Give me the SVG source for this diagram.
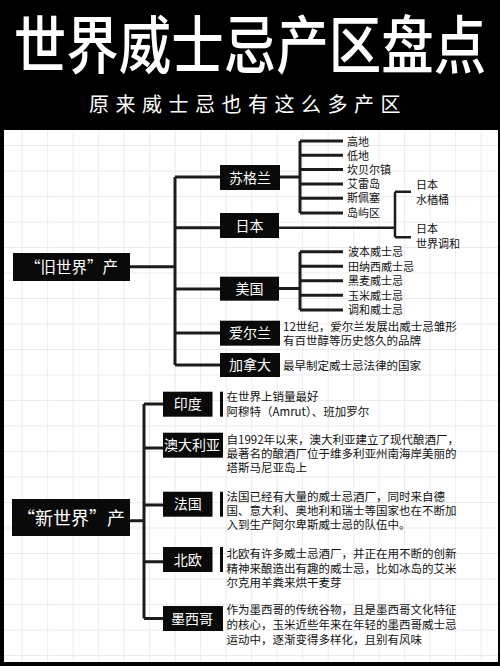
<svg xmlns="http://www.w3.org/2000/svg" width="500" height="666" viewBox="0 0 500 666">
<defs>
<pattern id="grid" patternUnits="userSpaceOnUse" x="21.7" y="145" width="25.5" height="25.5">
<path d="M0 0H25.5M0 0V25.5" stroke="#ebebeb" stroke-width="2" fill="none"/>
</pattern>
<style>
.t{font-family:"Noto Sans CJK SC","Noto Sans",sans-serif;}
.box{fill:#0a0a0a;}
.bt{font-family:"Noto Sans CJK SC",sans-serif;font-size:14px;fill:#fff;text-anchor:middle;}
.lt{font-family:"Noto Sans CJK SC",sans-serif;font-size:11px;fill:#111;}
.dt{font-family:"Noto Sans CJK SC",sans-serif;font-size:11.5px;fill:#111;}
.c{stroke:#1c1c1c;stroke-width:3;fill:none;}
.c2{stroke:#1c1c1c;stroke-width:2.5;fill:none;}
</style>
</defs>
<rect width="500" height="666" fill="#000"/>
<rect x="4" y="130" width="494" height="532" fill="#fff"/>
<rect x="4" y="130" width="494" height="532" fill="url(#grid)"/>

<g id="header">
<text class="t" x="0" y="0" font-size="52.5" font-weight="500" fill="#fff" text-anchor="middle" transform="translate(250 68) scale(1 1.2)">世界威士忌产区盘点</text>
<text class="t" x="248" y="112" font-size="20" fill="#fff" text-anchor="middle" letter-spacing="6.5">原来威士忌也有这么多产区</text>
</g>

<g id="connectors">
<path class="c" d="M130 266.7H175M175 177V365M175 177H220M175 227.7H220M175 289H220M175 333H220M175 365H220"/>
<path class="c" d="M279 177H300M300 141V213M300 141H343M300 155.3H343M300 169.6H343M300 183.9H343M300 198.2H343M300 213H343"/>
<path class="c2" d="M279 227.7H395M395 191.7V237.3M395 191.7H411M395 237.3H411"/>
<path class="c" d="M279 288.5H300M300 251.7V310M300 251.7H343M300 266.3H343M300 280.8H343M300 295.3H343M300 310H343"/>
<path class="c" d="M130 520.7H144M144 404V618.5M144 404H163M144 448H163M144 505H163M144 561.7H163M144 618.5H163"/>
</g>

<g id="old-world">
<rect class="box" x="13" y="253" width="117" height="28"/>
<text class="t" x="71.5" y="272.5" font-size="15.5" fill="#fff" text-anchor="middle">“旧世界”产</text>
</g>

<g id="scotland">
<rect class="box" x="220" y="165" width="60" height="25"/>
<text class="bt" x="250" y="182.5">苏格兰</text>
<text class="lt" x="347" y="145.5">高地</text>
<text class="lt" x="347" y="159.5">低地</text>
<text class="lt" x="347" y="173.5">坎贝尔镇</text>
<text class="lt" x="347" y="187.5">艾雷岛</text>
<text class="lt" x="347" y="202">斯佩塞</text>
<text class="lt" x="347" y="217">岛屿区</text>
</g>

<g id="japan">
<rect class="box" x="220" y="213" width="59" height="25"/>
<text class="bt" x="249.5" y="230.5">日本</text>
<text class="lt" x="416" y="189">日本</text>
<text class="lt" x="416" y="204">水楢桶</text>
<text class="lt" x="416" y="233">日本</text>
<text class="lt" x="416" y="247.5">世界调和</text>
</g>

<g id="usa">
<rect class="box" x="220" y="276.7" width="59" height="24"/>
<text class="bt" x="249.5" y="293.7">美国</text>
<text class="lt" x="348" y="256">波本威士忌</text>
<text class="lt" x="348" y="270.5">田纳西威士忌</text>
<text class="lt" x="348" y="285">黑麦威士忌</text>
<text class="lt" x="348" y="299.5">玉米威士忌</text>
<text class="lt" x="348" y="314">调和威士忌</text>
</g>

<g id="ireland">
<rect class="box" x="220" y="320.7" width="60" height="25"/>
<text class="bt" x="250" y="338.2">爱尔兰</text>
<text class="dt" x="283" y="331.3">12世纪，爱尔兰发展出威士忌雏形</text>
<text class="dt" x="283" y="345">有百世醇等历史悠久的品牌</text>
</g>

<g id="canada">
<rect class="box" x="220" y="353" width="60" height="24"/>
<text class="bt" x="250" y="370">加拿大</text>
<text class="dt" x="283" y="370">最早制定威士忌法律的国家</text>
</g>

<g id="new-world">
<rect class="box" x="12" y="499" width="118" height="37"/>
<text class="t" x="71" y="524.5" font-size="18" fill="#fff" text-anchor="middle">“新世界”产</text>
</g>

<g id="india">
<rect class="box" x="163" y="391.7" width="49.5" height="25"/>
<rect class="box" x="220" y="391.7" width="3" height="25"/>
<text class="bt" x="187.7" y="409.2">印度</text>
<text class="dt" x="226.5" y="401">在世界上销量最好</text>
<text class="dt" x="226.5" y="416">阿穆特（Amrut）、班加罗尔</text>
</g>

<g id="australia">
<rect class="box" x="163" y="432.7" width="60" height="25"/>
<text class="bt" x="192" y="450.2">澳大利亚</text>
<text class="dt" x="226.5" y="443.6">自1992年以来，澳大利亚建立了现代酿酒厂，</text>
<text class="dt" x="226.5" y="457.5">最著名的酿酒厂位于维多利亚州南海岸美丽的</text>
<text class="dt" x="226.5" y="471.6">塔斯马尼亚岛上</text>
</g>

<g id="france">
<rect class="box" x="163" y="491.7" width="49.5" height="25"/>
<rect class="box" x="220" y="491.7" width="3" height="25"/>
<text class="bt" x="187.7" y="509.2">法国</text>
<text class="dt" x="226.5" y="501">法国已经有大量的威士忌酒厂，同时来自德</text>
<text class="dt" x="226.5" y="514.5">国、意大利、奥地利和瑞士等国家也在不断加</text>
<text class="dt" x="226.5" y="529.3">入到生产阿尔卑斯威士忌的队伍中。</text>
</g>

<g id="nordic">
<rect class="box" x="163" y="547" width="49.5" height="25"/>
<rect class="box" x="220" y="547" width="3" height="25"/>
<text class="bt" x="187.7" y="564.5">北欧</text>
<text class="dt" x="226.5" y="557.6">北欧有许多威士忌酒厂，并正在用不断的创新</text>
<text class="dt" x="226.5" y="572.6">精神来酿造出有趣的威士忌，比如冰岛的艾米</text>
<text class="dt" x="226.5" y="587">尔克用羊粪来烘干麦芽</text>
</g>

<g id="mexico">
<rect class="box" x="163" y="606" width="58" height="25"/>
<rect class="box" x="220" y="606" width="3" height="25"/>
<text class="bt" x="192" y="623.5">墨西哥</text>
<text class="dt" x="226.5" y="614.3">作为墨西哥的传统谷物，且是墨西哥文化特征</text>
<text class="dt" x="226.5" y="629.3">的核心，玉米近些年来在年轻的墨西哥威士忌</text>
<text class="dt" x="226.5" y="644.3">运动中，逐渐变得多样化，且别有风味</text>
</g>
</svg>
